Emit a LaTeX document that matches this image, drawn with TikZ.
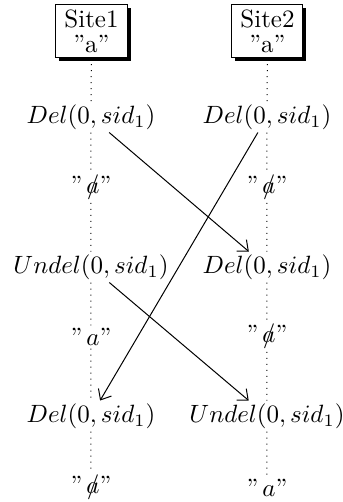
\documentclass[tikz,border=0pt]{standalone}
\usetikzlibrary{arrows.meta,shadows}
\newcommand{\nota}{\ooalign{$a$\cr\hidewidth$/$\hidewidth\cr}}
\begin{document}
\begin{tikzpicture}[x=0.4pt,y=-0.4pt,
  site/.style={draw, fill=white, align=center, minimum width=28.4pt, minimum height=21.2pt,
    inner sep=1pt, font=\fontsize{10}{10}\selectfont,
    general shadow={fill=black, shadow xshift=1.4pt, shadow yshift=-1.4pt}},
  ev/.style={inner sep=1pt},
  life/.style={dotted},
  msg/.style={-{Straight Barb[length=3.5pt,width=6pt]}}]
\useasboundingbox (0,0) rectangle (342,502);
\node[site] (s1) at (91.5,31) {Site1\\''a''};
\node[site] (s2) at (267.5,31) {Site2\\''a''};
\node[ev] (l1) at (91,117) {$Del(0,sid_1)$};
\node[ev] (r1) at (267,117) {$Del(0,sid_1)$};
\node[ev] (l2) at (91,188) {''\,\nota''};
\node[ev] (r2) at (267,188) {''\,\nota''};
\node[ev] (l3) at (91,267) {$Undel(0,sid_1)$};
\node[ev] (r3) at (267,267) {$Del(0,sid_1)$};
\node[ev] (l4) at (91,337) {''\,$a$''};
\node[ev] (r4) at (267,337) {''\,\nota''};
\node[ev] (l5) at (91,416) {$Del(0,sid_1)$};
\node[ev] (r5) at (267,416) {$Undel(0,sid_1)$};
\node[ev] (l6) at (91,488) {''\,\nota''};
\node[ev] (r6) at (267,488) {''\,$a$''};
\draw[life] (s1) -- (l1) -- (l2) -- (l3) -- (l4) -- (l5) -- (l6);
\draw[life] (s2) -- (r1) -- (r2) -- (r3) -- (r4) -- (r5) -- (r6);
\draw[msg] (l1) -- (r3);
\draw[msg] (r1) -- (l5);
\draw[msg] (l3) -- (r5);
\end{tikzpicture}
\end{document}
